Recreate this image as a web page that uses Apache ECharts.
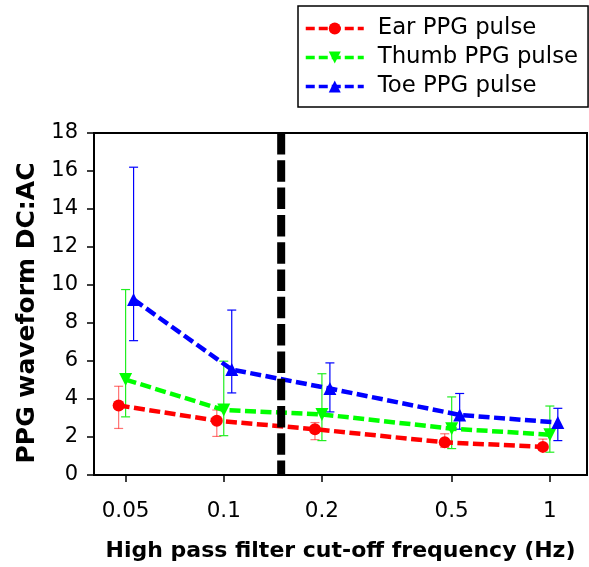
<!DOCTYPE html>
<html>
<head>
<meta charset="utf-8">
<script src="https://cdn.jsdelivr.net/npm/echarts@6/dist/echarts.min.js"></script>
<style>
html,body{margin:0;padding:0;background:#fff;}
#chart{width:589px;height:567px;}
</style>
</head>
<body>
<div id="chart"></div>
<script>
// ---- data ----
const freqs = [0.05, 0.1, 0.2, 0.5, 1];
const earMean = [3.66, 2.86, 2.41, 1.72, 1.48];
const earLow = [2.45, 2.03, 1.86, 1.45, 1.30];
const earHigh = [4.67, 3.42, 2.76, 2.17, 1.89];
const thumbMean = [5.02, 3.42, 3.19, 2.44, 2.12];
const thumbLow = [3.06, 2.07, 1.81, 1.39, 1.20];
const thumbHigh = [9.76, 5.99, 5.33, 4.11, 3.63];
const toeMean = [9.24, 5.55, 4.55, 3.16, 2.76];
const toeLow = [7.07, 4.32, 3.32, 2.41, 1.81];
const toeHigh = [16.2, 8.68, 5.90, 4.29, 3.51];
const cutoff = 0.15;
const xTickLabels = [0.05, 0.1, 0.2, 0.5, 1];
const seriesNames = ['Ear PPG pulse', 'Thumb PPG pulse', 'Toe PPG pulse'];
// horizontal display shift (multiplicative, log axis) so overlapping points separate
const earShift = 0.952, thumbShift = 1.0, toeShift = 1.058;

const L = Math.log10;
const FONT = 'DejaVu Sans';

function pts(mean, shift) { return freqs.map((f, i) => [L(f * shift), mean[i]]); }
function errs(lo, hi, shift) { return freqs.map((f, i) => [L(f * shift), lo[i], hi[i]]); }

function errSeries(lo, hi, shift, color) {
  return {
    type: 'custom', z: 1, silent: true,
    data: errs(lo, hi, shift),
    renderItem: function (params, api) {
      const x = api.value(0);
      const a = api.coord([x, api.value(1)]);
      const b = api.coord([x, api.value(2)]);
      const w = 4.5;
      const st = { stroke: color, lineWidth: 1.2 };
      return {
        type: 'group',
        children: [
          { type: 'line', shape: { x1: a[0], y1: a[1], x2: b[0], y2: b[1] }, style: st },
          { type: 'line', shape: { x1: a[0] - w, y1: a[1], x2: a[0] + w, y2: a[1] }, style: st },
          { type: 'line', shape: { x1: b[0] - w, y1: b[1], x2: b[0] + w, y2: b[1] }, style: st }
        ]
      };
    }
  };
}

function lineSeries(name, data, color, symbol, rotate, size) {
  return {
    name: name, type: 'line', z: 2, data: data,
    symbol: symbol, symbolSize: size, symbolRotate: rotate,
    itemStyle: { color: color },
    lineStyle: { color: color, width: 4.5, type: [11, 4.5] }
  };
}

const chart = echarts.init(document.getElementById('chart'), null, { renderer: 'canvas' });
const xTickVals = xTickLabels.map(L);

chart.setOption({
  animation: false,
  backgroundColor: '#fff',
  grid: { left: 94, right: 2, top: 133, bottom: 88, show: true, borderColor: '#000', borderWidth: 2 },
  legend: {
    data: seriesNames,
    orient: 'vertical',
    left: 298, top: 6,
    padding: [11, 10, 9, 6],
    itemGap: 6,
    itemWidth: 58, itemHeight: 15,
    borderColor: '#000', borderWidth: 1.5,
    lineStyle: { width: 3.5, type: [9, 4] },
    textStyle: { fontFamily: FONT, fontSize: 22.8, lineHeight: 23, color: '#000', padding: [0, 0, 0, 9] }
  },
  xAxis: {
    type: 'value',
    min: L(0.04), max: L(1.3),
    name: 'High pass filter cut-off frequency (Hz)',
    nameLocation: 'middle', nameGap: 65,
    nameTextStyle: { fontFamily: FONT, fontSize: 22, fontWeight: 'bold', color: '#000' },
    axisLine: { onZero: false, lineStyle: { color: '#000', width: 2 } },
    axisTick: { show: true, customValues: xTickVals, length: 7, inside: false, lineStyle: { color: '#000', width: 1.5 } },
    axisLabel: {
      customValues: xTickVals, margin: 25,
      fontFamily: FONT, fontSize: 21.5, color: '#000',
      formatter: v => String(+Math.pow(10, v).toPrecision(2))
    },
    splitLine: { show: false }
  },
  yAxis: {
    type: 'value', min: 0, max: 18, interval: 2,
    name: 'PPG waveform DC:AC',
    nameLocation: 'middle', nameGap: 50,
    nameTextStyle: { fontFamily: FONT, fontSize: 25, fontWeight: 'bold', color: '#000', padding: [0, 18, 0, 0] },
    axisLine: { show: true, onZero: false, lineStyle: { color: '#000', width: 2 } },
    axisTick: { show: true, length: 7, lineStyle: { color: '#000', width: 1.5 } },
    axisLabel: { margin: 16, fontFamily: FONT, fontSize: 21, color: '#000' },
    splitLine: { show: false }
  },
  series: [
    errSeries(earLow, earHigh, earShift, 'rgba(255,0,0,0.55)'),
    errSeries(thumbLow, thumbHigh, thumbShift, '#22ee22'),
    errSeries(toeLow, toeHigh, toeShift, '#0000ff'),
    lineSeries(seriesNames[0], pts(earMean, earShift), '#ff0000', 'circle', 0, 12),
    lineSeries(seriesNames[1], pts(thumbMean, thumbShift), '#00ff00', 'triangle', 180, 13),
    lineSeries(seriesNames[2], pts(toeMean, toeShift), '#0000ff', 'triangle', 0, 13),
    {
      name: 'cutoff', type: 'line', z: 3, symbol: 'none', silent: true,
      data: [[L(cutoff), 18], [L(cutoff), 0]],
      lineStyle: { color: '#000', width: 8, type: [21.5, 5.8] }
    }
  ]
});
</script>
</body>
</html>
